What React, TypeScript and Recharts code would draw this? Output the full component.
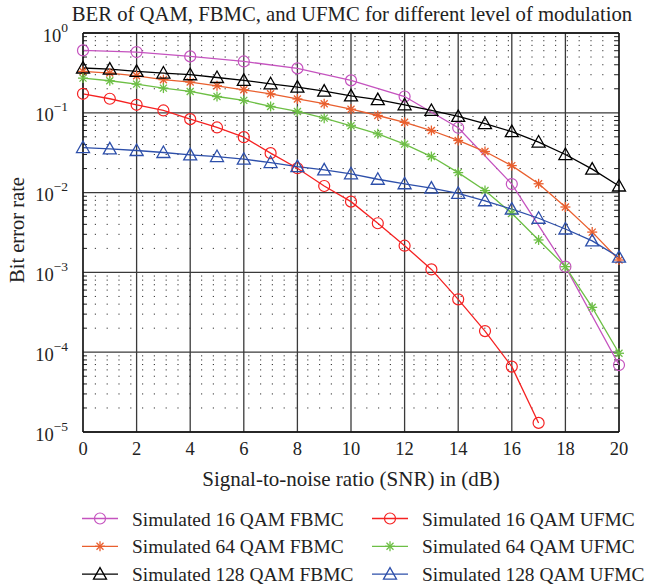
import React from "react";
import {
    LineChart,
    Line,
    XAxis,
    YAxis,
    CartesianGrid,
    ReferenceLine,
} from "recharts";

const snr = [0, 1, 2, 3, 4, 5, 6, 7, 8, 9, 10, 11, 12, 13, 14, 15, 16, 17, 18, 19, 20];

// BER (null = no point at that SNR)
const fbmc16 = [0.605, null, 0.577, null, 0.509, null, 0.44, null, 0.36, null, 0.255, null, 0.16, null, 0.065, null, 0.0128, null, 0.00118, null, 6.9e-5];
const fbmc64 = [0.33, 0.315, 0.291, 0.26, 0.243, 0.218, 0.194, 0.173, 0.149, 0.13, 0.111, 0.0925, 0.076, 0.06, 0.045, 0.0327, 0.0218, 0.0129, 0.0066, 0.0032, 0.00143];
const fbmc128 = [0.364, 0.353, 0.33, 0.315, 0.3, 0.277, 0.255, 0.231, 0.21, 0.187, 0.163, 0.146, 0.126, 0.107, 0.09, 0.073, 0.058, 0.043, 0.03, 0.0197, 0.0121];
const ufmc16 = [0.173, 0.15, 0.126, 0.107, 0.0833, 0.0655, 0.0495, 0.0312, 0.0202, 0.0121, 0.0077, 0.00413, 0.00216, 0.00109, 4.6e-4, 1.84e-4, 6.6e-5, 1.3e-5, null, null, null];
const ufmc64 = [0.272, 0.252, 0.229, 0.204, 0.185, 0.16, 0.143, 0.12, 0.104, 0.0857, 0.0687, 0.0545, 0.0405, 0.0283, 0.0178, 0.0106, 0.0055, 0.00255, 0.00118, 3.65e-4, 9.7e-5];
const ufmc128 = [0.0367, 0.0353, 0.0337, 0.0318, 0.0297, 0.0283, 0.0262, 0.0238, 0.0212, 0.0193, 0.0172, 0.0147, 0.0129, 0.0114, 0.0098, 0.0079, 0.0062, 0.00477, 0.0035, 0.00248, 0.00155];

const xTicks = [0, 2, 4, 6, 8, 10, 12, 14, 16, 18, 20];
const yTicks = [1e-5, 1e-4, 1e-3, 1e-2, 1e-1, 1];

const data = snr.map((x, i) => ({
    snr: x,
    fbmc16: fbmc16[i],
    fbmc64: fbmc64[i],
    fbmc128: fbmc128[i],
    ufmc16: ufmc16[i],
    ufmc64: ufmc64[i],
    ufmc128: ufmc128[i],
}));

const minorY: number[] = [];
for (let k = -5; k < 0; k++) {
    for (let m = 2; m <= 9; m++) minorY.push(m * Math.pow(10, k));
}

const FONT = '"Liberation Serif", "DejaVu Serif", serif';

type Shape = "circle" | "star" | "triangle";

const series: { key: string; name: string; color: string; shape: Shape }[] = [
    { key: "fbmc16", name: "Simulated 16 QAM FBMC", color: "#C553BF", shape: "circle" },
    { key: "fbmc64", name: "Simulated 64 QAM FBMC", color: "#E95F2E", shape: "star" },
    { key: "fbmc128", name: "Simulated 128 QAM FBMC", color: "#000000", shape: "triangle" },
    { key: "ufmc16", name: "Simulated 16 QAM UFMC", color: "#F52222", shape: "circle" },
    { key: "ufmc64", name: "Simulated 64 QAM UFMC", color: "#6DBF45", shape: "star" },
    { key: "ufmc128", name: "Simulated 128 QAM UFMC", color: "#2D4FAA", shape: "triangle" },
];

function Marker({ cx, cy, color, shape }: { cx: number; cy: number; color: string; shape: Shape }) {
    if (shape === "circle") {
        return <circle cx={cx} cy={cy} r={5.5} fill="none" stroke={color} strokeWidth={1.2} />;
    }
    if (shape === "triangle") {
        const p = `${cx},${cy - 6.5} ${cx - 6.5},${cy + 5} ${cx + 6.5},${cy + 5}`;
        return <polygon points={p} fill="none" stroke={color} strokeWidth={1.3} />;
    }
    const r = 5;
    const d = r * 0.7;
    return (
        <g stroke={color} strokeWidth={1.3}>
            <line x1={cx - r} y1={cy} x2={cx + r} y2={cy} />
            <line x1={cx} y1={cy - r} x2={cx} y2={cy + r} />
            <line x1={cx - d} y1={cy - d} x2={cx + d} y2={cy + d} />
            <line x1={cx - d} y1={cy + d} x2={cx + d} y2={cy - d} />
        </g>
    );
}

const makeDot = (color: string, shape: Shape) => (props: any) => {
    const { cx, cy, value, index } = props;
    if (value == null || cx == null || cy == null) return <g key={`e-${index}`} />;
    return (
        <g key={`d-${index}`}>
            <Marker cx={cx} cy={cy} color={color} shape={shape} />
        </g>
    );
};

const YTick = (props: any) => {
    const { y, payload } = props;
    const exp = Math.round(Math.log10(payload.value));
    const sup = exp === 0 ? "0" : `\u2212${Math.abs(exp)}`;
    return (
        <text x={68} y={y + 8.5} textAnchor="end" fontFamily={FONT} fontSize={18.5} fill="#222">
            <tspan>10</tspan>
            <tspan dy={-10} fontSize={13.5}>{sup}</tspan>
        </text>
    );
};

const XTick = (props: any) => {
    const { x, payload } = props;
    return (
        <text x={x} y={455} textAnchor="middle" fontFamily={FONT} fontSize={18.5} fill="#222">
            {payload.value}
        </text>
    );
};

function LegendOverlay() {
    return (
        <g fontFamily={FONT} fontSize={19.4} fill="#222">
            {series.map((s, i) => {
                const col = i < 3 ? 0 : 1;
                const row = i % 3;
                const x0 = col === 0 ? 82 : 372;
                const y = 518.5 + row * 27.8;
                return (
                    <g key={s.key}>
                        <line x1={x0} y1={y} x2={x0 + 36} y2={y} stroke={s.color} strokeWidth={1.3} />
                        <Marker cx={x0 + 18} cy={y} color={s.color} shape={s.shape} />
                        <text x={x0 + 50} y={y + 7}>{s.name}</text>
                    </g>
                );
            })}
        </g>
    );
}

export default function App() {
    return (
        <div style={{ position: "absolute", left: 0, top: 0, width: 645, height: 588, background: "#fff" }}>
            <LineChart
                width={645}
                height={588}
                data={data}
                margin={{ top: 33, right: 26, bottom: 96, left: 0 }}
            >
                <CartesianGrid stroke="#3a3a3a" strokeWidth={1.3} horizontalValues={yTicks} verticalValues={xTicks} />
                {minorY.map((v) => (
                    <ReferenceLine key={`m${v}`} y={v} stroke="#333" strokeDasharray="1.2 10.6" strokeWidth={1} />
                ))}
                {minorY.map((v) => (
                    <ReferenceLine key={`tl${v}`} segment={[{ x: 0, y: v }, { x: 0.15, y: v }]} stroke="#222" strokeWidth={1} />
                ))}
                {minorY.map((v) => (
                    <ReferenceLine key={`tr${v}`} segment={[{ x: 19.85, y: v }, { x: 20, y: v }]} stroke="#222" strokeWidth={1} />
                ))}
                <XAxis
                    type="number"
                    dataKey="snr"
                    domain={[0, 20]}
                    ticks={xTicks}
                    height={60}
                    tick={<XTick />}
                    tickLine={false}
                    axisLine={{ stroke: "#111", strokeWidth: 1.3 }}
                />
                <YAxis
                    scale="log"
                    domain={[1e-5, 1]}
                    ticks={yTicks}
                    width={83}
                    tick={<YTick />}
                    tickLine={false}
                    axisLine={{ stroke: "#111", strokeWidth: 1.3 }}
                    allowDataOverflow
                />
                <ReferenceLine x={20} stroke="#111" strokeWidth={1.3} />
                <ReferenceLine y={1} stroke="#111" strokeWidth={1.3} />
                {series.map((s) => (
                    <Line
                        key={s.key}
                        dataKey={s.key}
                        name={s.name}
                        stroke={s.color}
                        strokeWidth={1.3}
                        type="linear"
                        connectNulls
                        dot={makeDot(s.color, s.shape)}
                        activeDot={false}
                        isAnimationActive={false}
                    />
                ))}
            </LineChart>
            <svg
                width={645}
                height={588}
                style={{ position: "absolute", left: 0, top: 0, pointerEvents: "none" }}
            >
                <text x={352} y={20.5} textAnchor="middle" fontFamily={FONT} fontSize={20.7} fill="#222">
                    BER of QAM, FBMC, and UFMC for different level of modulation
                </text>
                <text
                    x={0}
                    y={0}
                    transform="translate(24,230) rotate(-90)"
                    textAnchor="middle"
                    fontFamily={FONT}
                    fontSize={20.5}
                    fill="#222"
                >
                    Bit error rate
                </text>
                <text x={351} y={486} textAnchor="middle" fontFamily={FONT} fontSize={21} fill="#222">
                    Signal-to-noise ratio (SNR) in (dB)
                </text>
                <LegendOverlay />
            </svg>
        </div>
    );
}
